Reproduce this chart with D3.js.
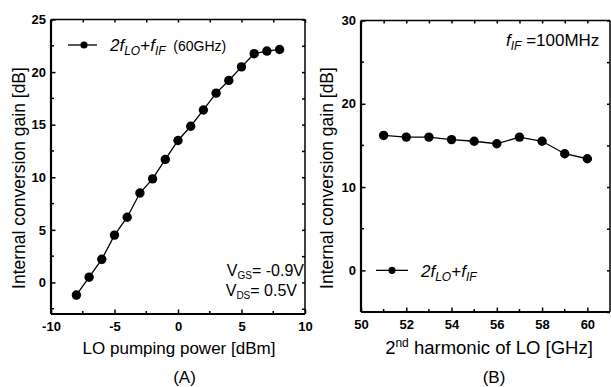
<!DOCTYPE html>
<html>
<head>
<meta charset="utf-8">
<script src="https://cdn.jsdelivr.net/npm/d3@7"></script>
<style>
  body { margin: 0; background: #fff; }
  svg { display: block; font-family: "Liberation Sans", Arial, sans-serif; }
</style>
</head>
<body>
<div id="chart"></div>
<script>
// panel A: gain vs LO pumping power
const loPower = [-8, -7, -6, -5, -4, -3, -2, -1, 0, 1, 2, 3, 4, 5, 6, 7, 8];
const gainA = [-1.2, 0.5, 2.2, 4.5, 6.2, 8.5, 9.85, 11.7, 13.5, 14.85, 16.4, 18.0, 19.2, 20.5, 21.75, 22.0, 22.15];
const xTicksA = [-10, -5, 0, 5, 10];
const yTicksA = [0, 5, 10, 15, 20, 25];

// panel B: gain vs 2nd harmonic of LO
const harmonic = [51, 52, 53, 54, 55, 56, 57, 58, 59, 60];
const gainB = [16.2, 16.0, 16.0, 15.7, 15.5, 15.2, 16.0, 15.5, 14.0, 13.4];
const xTicksB = [50, 52, 54, 56, 58, 60];
const yTicksB = [0, 10, 20, 30];

const FONT = "'Liberation Sans', Arial, sans-serif";

const svg = d3.select("#chart").append("svg")
    .attr("width", 611)
    .attr("height", 387);

// draws frame with inward ticks on all 4 sides
function drawPanel(x, y, xMajor, xMinor, yMajor, yMinor) {
    const [x0, x1] = x.range();
    const [y0, y1] = y.range(); // y0 bottom, y1 top
    const g = svg.append("g");

    const bottom = g.append("g").attr("transform", `translate(0,${y0})`)
        .call(d3.axisBottom(x).tickValues(xMajor).tickSize(-4.5).tickPadding(8).tickFormat(d => d));
    bottom.append("g").selectAll("line").data(xMinor).enter().append("line")
        .attr("x1", d => x(d)).attr("x2", d => x(d)).attr("y1", 0).attr("y2", -3).attr("stroke", "#000").attr("stroke-width", 1.5);
    const top = g.append("g").attr("transform", `translate(0,${y1})`)
        .call(d3.axisTop(x).tickValues(xMajor.concat(xMinor)).tickSize(-3).tickFormat(""));

    const left = g.append("g").attr("transform", `translate(${x0},0)`)
        .call(d3.axisLeft(y).tickValues(yMajor).tickSize(-4.5).tickPadding(5).tickFormat(d => d));
    left.append("g").selectAll("line").data(yMinor).enter().append("line")
        .attr("y1", d => y(d)).attr("y2", d => y(d)).attr("x1", 0).attr("x2", 3).attr("stroke", "#000").attr("stroke-width", 1.5);
    const right = g.append("g").attr("transform", `translate(${x1},0)`)
        .call(d3.axisRight(y).tickValues(yMajor.concat(yMinor)).tickSize(-3).tickFormat(""));

    g.selectAll("g").attr("font-family", FONT).attr("font-size", 13).attr("font-weight", "bold");
    g.selectAll(".domain").attr("stroke", "#000");
    bottom.select(".domain").attr("stroke-width", 2.2).attr("d", `M${x0},0H${x1}`);
    left.select(".domain").attr("stroke-width", 2.2).attr("d", `M0,${y0}V${y1}`);
    top.select(".domain").attr("stroke-width", 1.5).attr("d", `M${x0},0H${x1}`);
    right.select(".domain").attr("stroke-width", 1.5).attr("d", `M0,${y0}V${y1}`);
    g.selectAll(".tick line").attr("stroke-width", 1.5);
    g.selectAll(".tick text").attr("fill", "#000");
    return g;
}

function drawSeries(xs, ys, x, y) {
    svg.append("path")
        .datum(xs.map((d, i) => [d, ys[i]]))
        .attr("fill", "none")
        .attr("stroke", "#000")
        .attr("stroke-width", 1.3)
        .attr("d", d3.line().x(d => x(d[0])).y(d => y(d[1])));
    svg.append("g").selectAll("circle")
        .data(xs.map((d, i) => [d, ys[i]]))
        .enter().append("circle")
        .attr("cx", d => x(d[0]))
        .attr("cy", d => y(d[1]))
        .attr("r", 4.7)
        .attr("fill", "#000");
}

// label "2f_LO+f_IF" in italic with subscripts
function addFormula(t) {
    t.append("tspan").attr("font-style", "italic").text("2f");
    t.append("tspan").attr("font-style", "italic").attr("font-size", "12px").attr("dy", 4).text("LO");
    t.append("tspan").attr("dy", -4).text("+");
    t.append("tspan").attr("font-style", "italic").text("f");
    t.append("tspan").attr("font-style", "italic").attr("font-size", "12px").attr("dy", 4).text("IF");
}

// ---- panel A ----
const xA = d3.scaleLinear().domain([-10, 10]).range([51, 305]);
const yA = d3.scaleLinear().domain([-3, 25]).range([314, 19.5]);
drawPanel(xA, yA, xTicksA, [-7.5, -2.5, 2.5, 7.5], yTicksA, [-2.5, 2.5, 7.5, 12.5, 17.5, 22.5]);
drawSeries(loPower, gainA, xA, yA);

svg.append("text")
    .attr("transform", "translate(25,178) rotate(-90)")
    .attr("text-anchor", "middle")
    .attr("font-size", "17.5px")
    .text("Internal conversion gain [dB]");
svg.append("text")
    .attr("x", 179).attr("y", 354)
    .attr("text-anchor", "middle")
    .attr("font-size", "17px")
    .text("LO pumping power [dBm]");
svg.append("text")
    .attr("x", 184.5).attr("y", 383)
    .attr("text-anchor", "middle")
    .attr("font-size", "17px")
    .text("(A)");

// legend A
svg.append("line").attr("x1", 68).attr("x2", 97).attr("y1", 45).attr("y2", 45).attr("stroke", "#000").attr("stroke-width", 1.3);
svg.append("circle").attr("cx", 84).attr("cy", 45).attr("r", 3.6).attr("fill", "#000");
const legA = svg.append("text").attr("x", 110).attr("y", 51).attr("font-size", "17px");
addFormula(legA);
legA.append("tspan").attr("dy", -4).attr("font-size", "14px").text("\u00a0 (60GHz)");

// bias text
const vgs = svg.append("text").attr("x", 304).attr("y", 276).attr("text-anchor", "end").attr("font-size", "16px");
vgs.append("tspan").text("V");
vgs.append("tspan").attr("font-size", "10px").attr("dy", 3).text("GS");
vgs.append("tspan").attr("dy", -3).text("= -0.9V");
const vds = svg.append("text").attr("x", 297).attr("y", 296).attr("text-anchor", "end").attr("font-size", "16px");
vds.append("tspan").text("V");
vds.append("tspan").attr("font-size", "10px").attr("dy", 3).text("DS");
vds.append("tspan").attr("dy", -3).text("= 0.5V");

// ---- panel B ----
const xB = d3.scaleLinear().domain([50, 61]).range([361, 610]);
const yB = d3.scaleLinear().domain([-5, 30]).range([312, 20.5]);
drawPanel(xB, yB, xTicksB, [51, 53, 55, 57, 59], yTicksB, [-5, 5, 15, 25]);
drawSeries(harmonic, gainB, xB, yB);

svg.append("text")
    .attr("transform", "translate(333,178) rotate(-90)")
    .attr("text-anchor", "middle")
    .attr("font-size", "17.5px")
    .text("Internal conversion gain [dB]");
const xtB = svg.append("text")
    .attr("x", 489).attr("y", 354)
    .attr("text-anchor", "middle")
    .attr("font-size", "18.5px");
xtB.append("tspan").text("2");
xtB.append("tspan").attr("font-size", "12px").attr("dy", -7).text("nd");
xtB.append("tspan").attr("dy", 7).text(" harmonic of LO [GHz]");
svg.append("text")
    .attr("x", 494).attr("y", 383)
    .attr("text-anchor", "middle")
    .attr("font-size", "17px")
    .text("(B)");

// legend B
svg.append("line").attr("x1", 376).attr("x2", 408).attr("y1", yB(0)).attr("y2", yB(0)).attr("stroke", "#000").attr("stroke-width", 1.3);
svg.append("circle").attr("cx", 392).attr("cy", yB(0)).attr("r", 3.6).attr("fill", "#000");
const legB = svg.append("text").attr("x", 421).attr("y", 277).attr("font-size", "17px");
addFormula(legB);

// f_IF note
const fif = svg.append("text").attr("x", 506).attr("y", 46).attr("font-size", "17px");
fif.append("tspan").attr("font-style", "italic").text("f");
fif.append("tspan").attr("font-style", "italic").attr("font-size", "12px").attr("dy", 4).text("IF");
fif.append("tspan").attr("dy", -4).text(" =100MHz");
</script>
</body>
</html>
